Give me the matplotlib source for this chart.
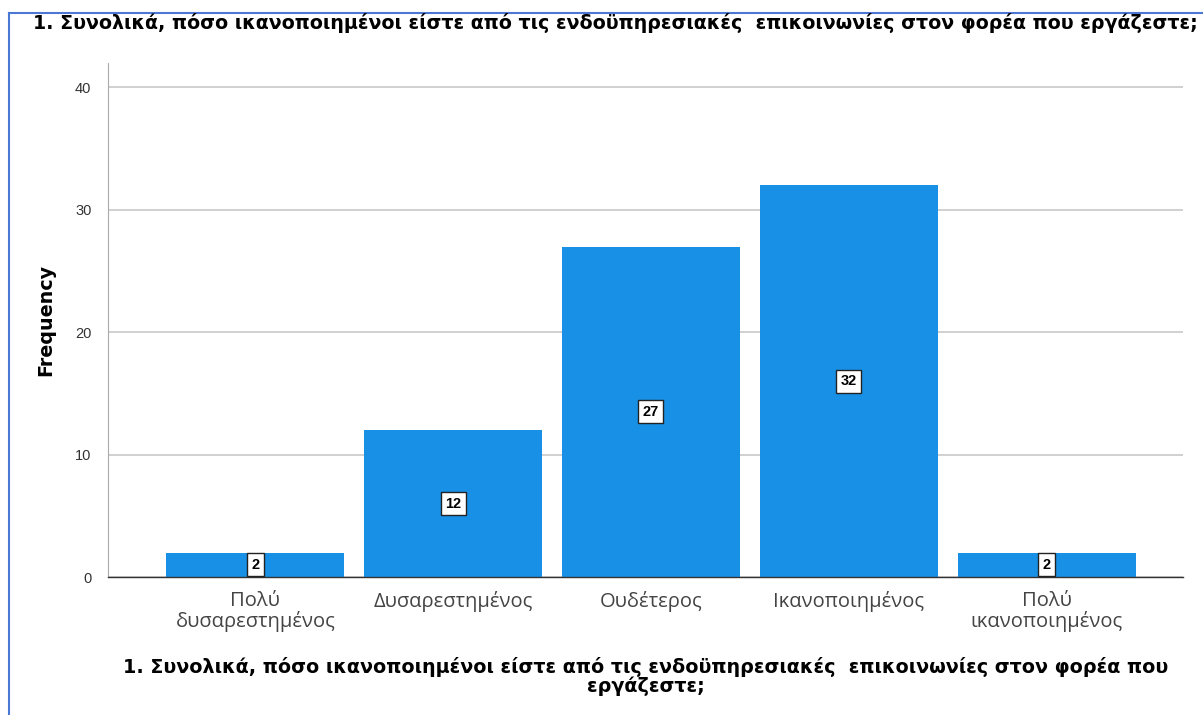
import numpy as np
import matplotlib.pyplot as plt
from matplotlib.lines import Line2D

question = "1. Συνολικά, πόσο ικανοποιημένοι είστε από τις ενδοϋπηρεσιακές  επικοινωνίες στον φορέα που εργάζεστε;"
xlabel_text = "1. Συνολικά, πόσο ικανοποιημένοι είστε από τις ενδοϋπηρεσιακές  επικοινωνίες στον φορέα που\nεργάζεστε;"
categories = ["Πολύ\nδυσαρεστημένος", "Δυσαρεστημένος", "Ουδέτερος",
              "Ικανοποιημένος", "Πολύ\nικανοποιημένος"]
counts = [2, 12, 27, 32, 2]
yticks = [0, 10, 20, 30, 40]

bar_color = "#1790e6"

fig = plt.figure(figsize=(12.03, 7.15), dpi=100)
ax = fig.add_axes([0.0898, 0.193, 0.8936, 0.719])

x = np.arange(len(categories))
ax.bar(x, counts, width=0.9, color=bar_color, zorder=2)
ax.set_xlim(-0.745, 4.69)
ax.set_ylim(0, 42)

for xi, v in zip(x, counts):
    ax.text(xi, v / 2, str(v), ha="center", va="center", fontsize=10.5,
            fontweight="bold", family="Liberation Sans", zorder=3,
            bbox=dict(boxstyle="square,pad=0.3", fc="white", ec="#222222", lw=1))

ax.set_yticks(yticks)
ax.yaxis.grid(True, color="#c8c8c8", lw=1.2, zorder=0)
ax.tick_params(axis="y", length=0, pad=12, labelsize=10.5, labelcolor="#333333")
ax.tick_params(axis="x", length=0, pad=10, labelsize=14.5, labelcolor="#444444")
ax.set_xticks(x)
ax.set_xticklabels(categories, family="Open Sans", linespacing=1.0)
for lbl in ax.get_yticklabels():
    lbl.set_family("Liberation Sans")

for side in ["top", "right"]:
    ax.spines[side].set_visible(False)
ax.spines["left"].set_color("#aaaaaa")
ax.spines["bottom"].set_color("#333333")
ax.spines["bottom"].set_linewidth(1.0)

ax.set_ylabel("Frequency", fontsize=13.8, fontweight="bold",
              family="DejaVu Sans", labelpad=14)
ax.set_xlabel(xlabel_text, fontsize=13.8, fontweight="bold",
              family="DejaVu Sans", labelpad=18, linespacing=1.0)

fig.text(33 / 1203, 1 - 23 / 715, question, ha="left", va="center",
         fontsize=13.65, fontweight="bold", family="DejaVu Sans")

# frame around the output panel
border = "#4a78d4"
fig.add_artist(Line2D([9 / 1203, 9 / 1203], [0, 1 - 13 / 715],
                      transform=fig.transFigure, color=border, lw=1.5))
fig.add_artist(Line2D([9 / 1203, 1], [1 - 13 / 715, 1 - 13 / 715],
                      transform=fig.transFigure, color=border, lw=1.5))

fig.savefig("out.png", dpi=100)
